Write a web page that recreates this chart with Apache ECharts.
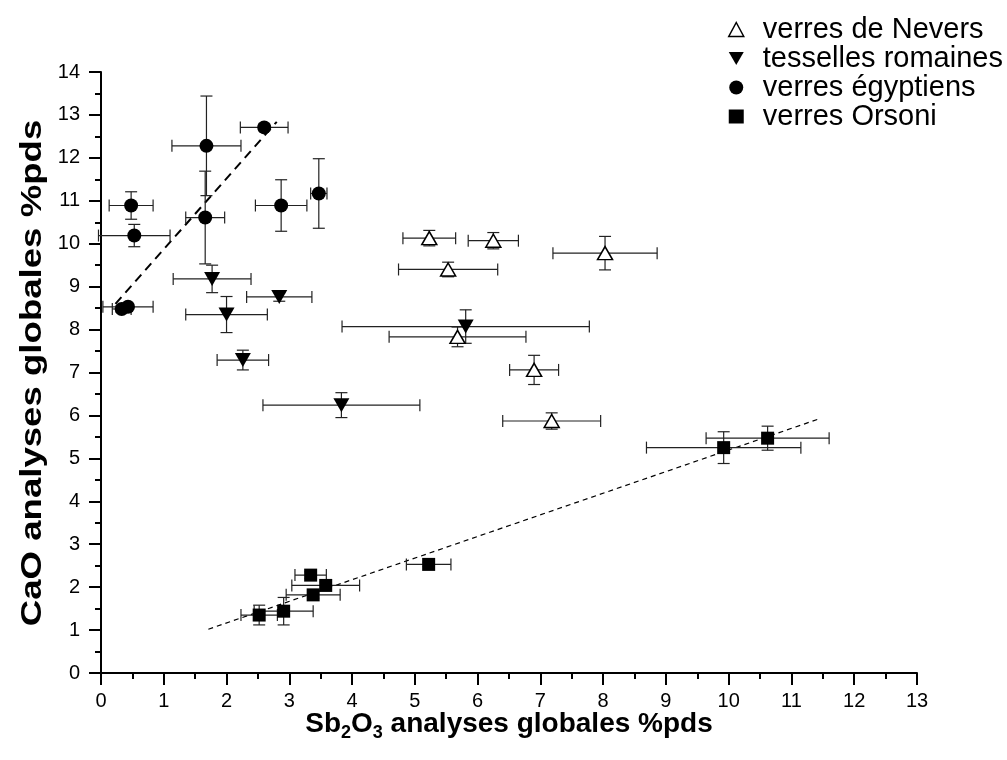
<!DOCTYPE html>
<html>
<head>
<meta charset="utf-8">
<script src="https://cdn.jsdelivr.net/npm/echarts@6/dist/echarts.min.js"></script>
<style>html,body{margin:0;padding:0;background:#fff}#c{width:1007px;height:760px}</style>
</head>
<body>
<div id="c"></div>
<script>
// ---- data ----
const xTicks = [0,1,2,3,4,5,6,7,8,9,10,11,12,13];
const yTicks = [0,1,2,3,4,5,6,7,8,9,10,11,12,13,14];

const neversX    = [5.23, 6.25, 5.53, 5.68, 6.90, 7.18, 8.03];
const neversY    = [10.13, 10.07, 9.40, 7.83, 7.06, 5.87, 9.78];
const neversXErr = [0.42, 0.40, 0.79, 1.09, 0.39, 0.78, 0.83];
const neversYErr = [0.18, 0.19, 0.17, 0.23, 0.34, 0.19, 0.39];

const tessX    = [1.77, 2.84, 2.00, 2.26, 3.83, 5.81];
const tessY    = [9.18, 8.76, 8.35, 7.29, 6.24, 8.07];
const tessXErr = [0.62, 0.52, 0.65, 0.41, 1.25, 1.97];
const tessYErr = [0.32, 0.10, 0.42, 0.23, 0.29, 0.39];

const egyX    = [2.60, 1.68, 1.66, 0.48, 0.53, 2.87, 3.47, 0.33, 0.43];
const egyY    = [12.71, 12.28, 10.61, 10.89, 10.19, 10.89, 11.17, 8.48, 8.53];
const egyXErr = [0.38, 0.55, 0.31, 0.35, 0.57, 0.41, 0.13, 0.15, 0.40];
const egyYErr = [0.08, 1.16, 1.08, 0.32, 0.26, 0.60, 0.81, 0.08, 0.05];

const orsX    = [2.52, 2.91, 3.34, 3.58, 3.38, 5.22, 9.92, 10.62];
const orsY    = [1.35, 1.44, 2.28, 2.04, 1.82, 2.53, 5.25, 5.47];
const orsXErr = [0.29, 0.47, 0.25, 0.54, 0.43, 0.355, 1.23, 0.98];
const orsYErr = [0.23, 0.32, 0.08, 0.08, 0.08, 0.05, 0.37, 0.28];

// fitted trend lines (end points)
const egFitX  = [0.23, 2.80];
const egFitY  = [8.60, 12.84];
const orsFitX = [1.71, 11.44];
const orsFitY = [1.02, 5.92];

const names = ['verres de Nevers', 'tesselles romaines', 'verres égyptiens', 'verres Orsoni'];
const yTitle = 'CaO analyses globales %pds';

// ---- helpers ----
const pts = (xs, ys) => xs.map((x, i) => [x, ys[i]]);
const errData = (xs, ys, xe, ye) => xs.map((x, i) => [x, ys[i], xe[i], ye[i]]);

function renderErr(params, api) {
  const x = api.value(0), y = api.value(1), xe = api.value(2), ye = api.value(3);
  const cap = 6;
  const st = { stroke: '#222', lineWidth: 1.2, fill: null };
  const ch = [];
  if (xe > 0) {
    const l = api.coord([x - xe, y]), r = api.coord([x + xe, y]);
    ch.push({ type: 'line', shape: { x1: l[0], y1: l[1], x2: r[0], y2: r[1] }, style: st });
    ch.push({ type: 'line', shape: { x1: l[0], y1: l[1] - cap, x2: l[0], y2: l[1] + cap }, style: st });
    ch.push({ type: 'line', shape: { x1: r[0], y1: r[1] - cap, x2: r[0], y2: r[1] + cap }, style: st });
  }
  if (ye > 0) {
    const t = api.coord([x, y + ye]), b = api.coord([x, y - ye]);
    ch.push({ type: 'line', shape: { x1: t[0], y1: t[1], x2: b[0], y2: b[1] }, style: st });
    ch.push({ type: 'line', shape: { x1: t[0] - cap, y1: t[1], x2: t[0] + cap, y2: t[1] }, style: st });
    ch.push({ type: 'line', shape: { x1: b[0] - cap, y1: b[1], x2: b[0] + cap, y2: b[1] }, style: st });
  }
  return { type: 'group', children: ch };
}

const errSeries = (id, data) => ({
  type: 'custom', name: id, renderItem: renderErr, data: data,
  encode: { x: 0, y: 1 }, z: 2, silent: true
});

const FONT = '"Liberation Sans", Arial, sans-serif';
const invTri = 'path://M0,0L20,0L10,17.3Z';

const chart = echarts.init(document.getElementById('c'), null, { renderer: 'canvas' });
chart.setOption({
  animation: false,
  backgroundColor: '#fff',
  grid: { left: 101, right: 90, top: 72, bottom: 87, containLabel: false },
  graphic: [{
    type: 'text', x: 33, y: 373, rotation: Math.PI / 2, scaleX: 1.22, scaleY: 1,
    silent: true,
    style: {
      text: yTitle, fill: '#000', fontFamily: FONT, fontSize: 30, fontWeight: 'bold',
      align: 'center', verticalAlign: 'middle', textAlign: 'center', textVerticalAlign: 'middle'
    }
  }],
  legend: {
    orient: 'vertical', left: 723, top: 10, itemGap: 0,
    itemWidth: 15, itemHeight: 14,
    textStyle: { fontFamily: FONT, fontSize: 29, color: '#000', lineHeight: 28, padding: [0, 0, 0, 14] },
    data: [
      { name: names[0], icon: 'triangle', itemStyle: { color: '#fff', borderColor: '#000', borderWidth: 1.5 } },
      { name: names[1], icon: invTri, itemStyle: { color: '#000' } },
      { name: names[2], icon: 'circle', itemStyle: { color: '#000' } },
      { name: names[3], icon: 'rect', itemStyle: { color: '#000' } }
    ]
  },
  xAxis: {
    type: 'value', min: xTicks[0], max: xTicks[xTicks.length - 1], interval: 1,
    name: '{b|Sb}{s|2}{b|O}{s|3}{b| analyses globales %pds}',
    nameLocation: 'middle', nameGap: 37, nameMoveOverlap: false,
    nameTextStyle: {
      rich: {
        b: { fontFamily: FONT, fontSize: 28, fontWeight: 'bold', color: '#000', lineHeight: 32, verticalAlign: 'top' },
        s: { fontFamily: FONT, fontSize: 18, fontWeight: 'bold', color: '#000', lineHeight: 18, padding: [21, 0, 0, 0], verticalAlign: 'bottom' }
      }
    },
    axisLine: { lineStyle: { color: '#000', width: 2 } },
    axisTick: { inside: false, length: 12, lineStyle: { color: '#000', width: 2 } },
    minorTick: { show: true, splitNumber: 2, length: 6, lineStyle: { color: '#000', width: 2 } },
    splitLine: { show: false },
    axisLabel: { fontFamily: FONT, fontSize: 20, color: '#000', margin: 18 }
  },
  yAxis: {
    type: 'value', min: yTicks[0], max: yTicks[yTicks.length - 1], interval: 1,
    axisLine: { show: true, lineStyle: { color: '#000', width: 2 } },
    axisTick: { show: true, inside: false, length: 12, lineStyle: { color: '#000', width: 2 } },
    minorTick: { show: true, splitNumber: 2, length: 6, lineStyle: { color: '#000', width: 2 } },
    splitLine: { show: false },
    axisLabel: { fontFamily: FONT, fontSize: 20, color: '#000', margin: 21 }
  },
  series: [
    { type: 'line', name: 'fitEg', data: pts(egFitX, egFitY), symbol: 'none', silent: true, z: 1,
      lineStyle: { color: '#000', width: 2, type: [9, 6] } },
    { type: 'line', name: 'fitOrs', data: pts(orsFitX, orsFitY), symbol: 'none', silent: true, z: 1,
      lineStyle: { color: '#000', width: 1.2, type: [5, 4] } },
    errSeries('errNevers', errData(neversX, neversY, neversXErr, neversYErr)),
    errSeries('errTess', errData(tessX, tessY, tessXErr, tessYErr)),
    errSeries('errEgy', errData(egyX, egyY, egyXErr, egyYErr)),
    errSeries('errOrs', errData(orsX, orsY, orsXErr, orsYErr)),
    { type: 'scatter', name: names[0], data: pts(neversX, neversY), symbol: 'triangle', symbolSize: [15, 13], z: 5,
      itemStyle: { color: '#fff', borderColor: '#000', borderWidth: 1.5, opacity: 1 } },
    { type: 'scatter', name: names[1], data: pts(tessX, tessY), symbol: invTri, symbolSize: [16, 14], z: 5,
      itemStyle: { color: '#000', opacity: 1 } },
    { type: 'scatter', name: names[2], data: pts(egyX, egyY), symbol: 'circle', symbolSize: 14, z: 5,
      itemStyle: { color: '#000', opacity: 1 } },
    { type: 'scatter', name: names[3], data: pts(orsX, orsY), symbol: 'rect', symbolSize: 13, z: 5,
      itemStyle: { color: '#000', opacity: 1 } }
  ]
});
</script>
</body>
</html>
